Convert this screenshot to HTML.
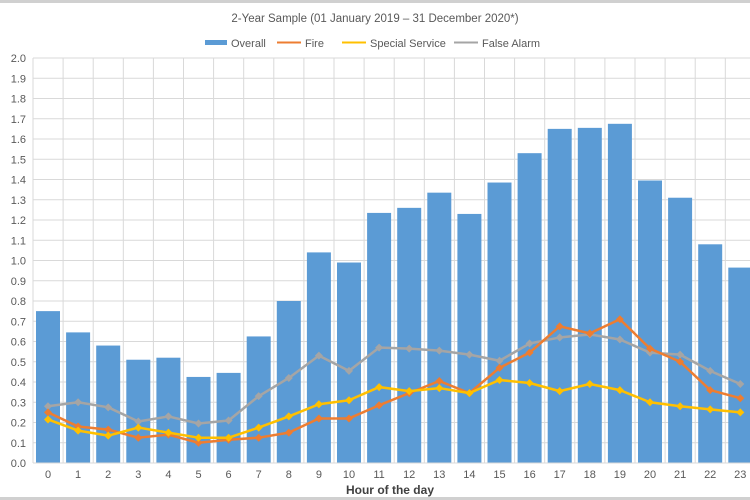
<!DOCTYPE html>
<html><head><meta charset="utf-8"><style>
html,body{margin:0;padding:0;background:#fff;width:750px;height:500px;overflow:hidden}
svg{display:block;font-family:"Liberation Sans",sans-serif}
</style></head><body>
<svg id="c" width="750" height="500" xmlns="http://www.w3.org/2000/svg">
<rect x="0" y="0" width="750" height="500" fill="#fff"/>
<line x1="0" y1="1.5" x2="750" y2="1.5" stroke="#d0d0d0" stroke-width="3"/>
<line x1="0" y1="498.5" x2="750" y2="498.5" stroke="#d0d0d0" stroke-width="3"/>
<text x="375" y="22" text-anchor="middle" font-size="11.5" fill="#595959">2-Year Sample (01 January 2019 – 31 December 2020*)</text>
<rect x="205" y="40" width="22" height="5" fill="#5b9bd5"/>
<text x="231" y="47" font-size="11" fill="#595959">Overall</text>
<line x1="277" y1="42.5" x2="301" y2="42.5" stroke="#ed7d31" stroke-width="2"/>
<text x="305" y="47" font-size="11" fill="#595959">Fire</text>
<line x1="342" y1="42.5" x2="366" y2="42.5" stroke="#ffc000" stroke-width="2"/>
<text x="370" y="47" font-size="11" fill="#595959">Special Service</text>
<line x1="454" y1="42.5" x2="478" y2="42.5" stroke="#a5a5a5" stroke-width="2"/>
<text x="482" y="47" font-size="11" fill="#595959">False Alarm</text>
<g id="g"></g>
<text x="390" y="494" text-anchor="middle" font-size="12" font-weight="bold" fill="#404040">Hour of the day</text>
</svg>
<script>
var g=document.getElementById('g'),h='';
function Y(v){return 463-v*202.5}
function X(i){return 48+i*30.1}
for(var k=0;k<=20;k++){var y=Y(k/10);h+='<line x1="33" x2="750" y1="'+y+'" y2="'+y+'" stroke="#d9d9d9" stroke-width="1"/>';
h+='<text x="26" y="'+(y+4)+'" text-anchor="end" font-size="11" fill="#595959">'+(k/10).toFixed(1)+'</text>';}
for(var i=0;i<=24;i++){var x=33+i*30.1;h+='<line x1="'+x+'" x2="'+x+'" y1="58" y2="463" stroke="#d9d9d9" stroke-width="1"/>';}
var O=[0.75,0.645,0.58,0.51,0.52,0.425,0.445,0.625,0.80,1.04,0.99,1.235,1.26,1.335,1.23,1.385,1.53,1.65,1.655,1.675,1.395,1.31,1.08,0.965];
var F=[0.25,0.18,0.165,0.125,0.14,0.10,0.115,0.125,0.15,0.22,0.22,0.285,0.345,0.405,0.345,0.47,0.545,0.675,0.64,0.71,0.565,0.5,0.36,0.32];
var S=[0.215,0.16,0.135,0.175,0.15,0.125,0.125,0.175,0.23,0.29,0.31,0.375,0.355,0.37,0.345,0.41,0.395,0.355,0.39,0.36,0.3,0.28,0.265,0.25];
var A=[0.28,0.30,0.275,0.205,0.23,0.195,0.21,0.33,0.42,0.53,0.455,0.57,0.565,0.555,0.535,0.505,0.59,0.62,0.635,0.61,0.545,0.535,0.455,0.39];
for(i=0;i<24;i++){h+='<rect x="'+(X(i)-12)+'" y="'+Y(O[i])+'" width="24" height="'+(O[i]*202.5)+'" fill="#5b9bd5"/>';
h+='<text x="'+X(i)+'" y="478" text-anchor="middle" font-size="11" fill="#595959">'+i+'</text>';}
h+='<line x1="33" x2="750" y1="463" y2="463" stroke="#d9d9d9"/>';
function line(d,c){var p=d.map(function(v,i){return X(i)+','+Y(v)}).join(' ');
var s='<polyline points="'+p+'" fill="none" stroke="'+c+'" stroke-width="2.5" stroke-linejoin="round"/>';
d.forEach(function(v,i){var x=X(i),y=Y(v);s+='<polygon points="'+x+','+(y-4)+' '+(x+4)+','+y+' '+x+','+(y+4)+' '+(x-4)+','+y+'" fill="'+c+'"/>';});return s;}
h+=line(A,'#a5a5a5')+line(F,'#ed7d31')+line(S,'#ffc000');
g.innerHTML=h;
</script>
</body></html>
